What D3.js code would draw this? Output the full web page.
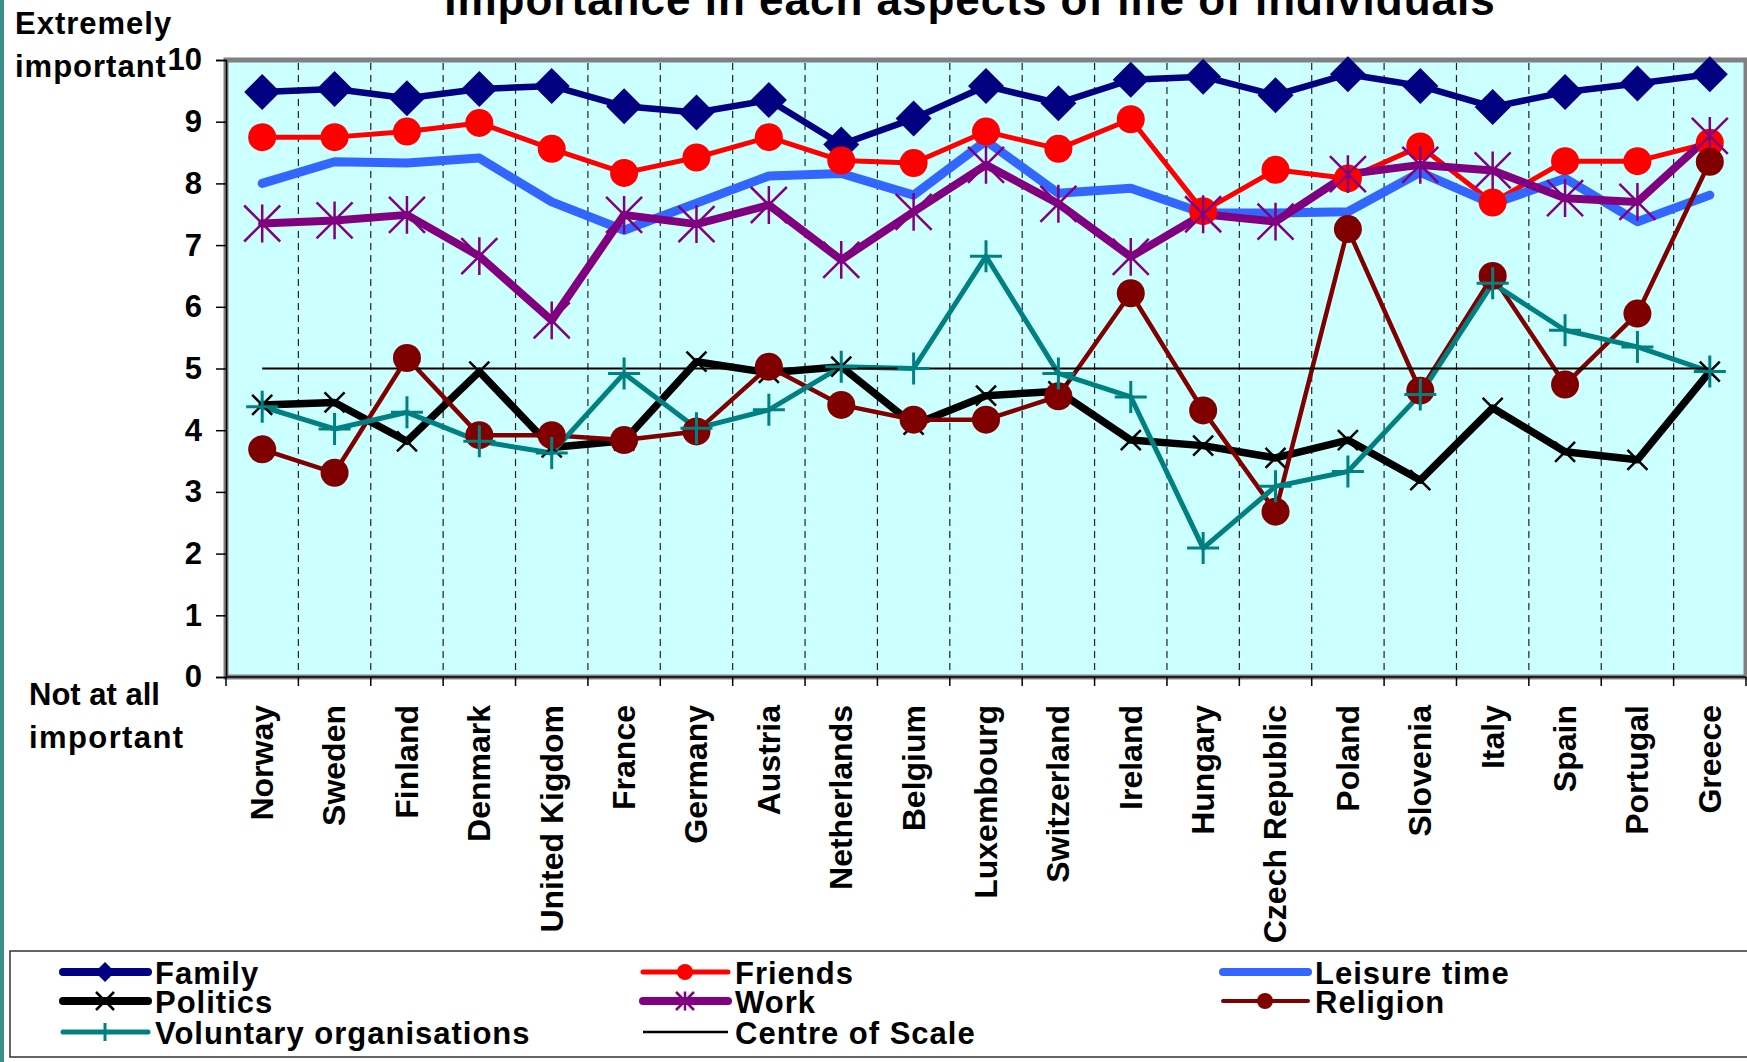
<!DOCTYPE html>
<html>
<head>
<meta charset="utf-8">
<script src="https://cdn.jsdelivr.net/npm/d3@7"></script>
<style>
  html, body { margin: 0; padding: 0; background: #fff; }
  svg { display: block; }
  text { font-family: "Liberation Sans", Arial, sans-serif; font-weight: bold; fill: #000; }
</style>
</head>
<body>
<svg id="chart" width="1747" height="1062"></svg>
<script>
// Countries along the horizontal axis
const countries = ["Norway", "Sweden", "Finland", "Denmark", "United Kigdom", "France", "Germany",
  "Austria", "Netherlands", "Belgium", "Luxembourg", "Switzerland", "Ireland", "Hungary",
  "Czech Republic", "Poland", "Slovenia", "Italy", "Spain", "Portugal", "Greece"];

// Mean importance (0 = not at all important, 10 = extremely important)
const family    = [9.48, 9.53, 9.38, 9.53, 9.58, 9.25, 9.15, 9.35, 8.63, 9.05, 9.58, 9.30, 9.68, 9.73, 9.43, 9.77, 9.58, 9.24, 9.48, 9.62, 9.77];
const friends   = [8.75, 8.75, 8.84, 8.98, 8.56, 8.17, 8.42, 8.75, 8.37, 8.33, 8.84, 8.56, 9.04, 7.55, 8.22, 8.08, 8.60, 7.69, 8.36, 8.36, 8.66];
const leisure   = [8.00, 8.35, 8.33, 8.41, 7.70, 7.24, 7.68, 8.12, 8.16, 7.81, 8.69, 7.84, 7.92, 7.52, 7.52, 7.54, 8.18, 7.67, 8.08, 7.38, 7.81];
const politics  = [4.41, 4.45, 3.82, 4.95, 3.72, 3.83, 5.11, 4.93, 5.03, 4.09, 4.56, 4.63, 3.84, 3.75, 3.55, 3.84, 3.19, 4.36, 3.65, 3.52, 4.95];
const work      = [7.35, 7.40, 7.49, 6.82, 5.78, 7.49, 7.34, 7.65, 6.76, 7.54, 8.30, 7.67, 6.81, 7.50, 7.38, 8.15, 8.30, 8.21, 7.76, 7.70, 8.77];
const religion  = [3.69, 3.31, 5.17, 3.92, 3.92, 3.84, 3.98, 5.03, 4.41, 4.17, 4.17, 4.55, 6.22, 4.32, 2.68, 7.26, 4.64, 6.50, 4.74, 5.89, 8.35];
const voluntary = [4.38, 4.02, 4.29, 3.82, 3.63, 4.92, 4.03, 4.33, 5.03, 5.00, 6.82, 4.92, 4.54, 2.09, 3.09, 3.33, 4.58, 6.38, 5.62, 5.35, 4.95];
const centreOfScale = 5;

const yTicks = [0, 1, 2, 3, 4, 5, 6, 7, 8, 9, 10];
const titleText = "Importance in each aspects of life of individuals";

// Series table, in legend order
const series = [
  { name: "Family",                  values: family,    color: "#000080", width: 6.5, marker: "diamond",  size: 18, lw: 8 },
  { name: "Friends",                 values: friends,   color: "#FF0000", width: 5,   marker: "circle",   size: 14, lw: 5 },
  { name: "Leisure time",            values: leisure,   color: "#3366FF", width: 9,   marker: null,       size: 0,  lw: 8 },
  { name: "Politics",                values: politics,  color: "#000000", width: 7.5, marker: "x",        size: 10, lw: 8 },
  { name: "Work",                    values: work,      color: "#800080", width: 8,   marker: "asterisk", size: 18, lw: 8 },
  { name: "Religion",                values: religion,  color: "#800000", width: 4.5, marker: "circle",   size: 14, lw: 4 },
  { name: "Voluntary organisations", values: voluntary, color: "#008080", width: 5,   marker: "plus",     size: 16, lw: 5 }
];

const svg = d3.select("#chart");
const plot = { left: 226, right: 1746, top: 60, bottom: 677 };

const x = d3.scaleBand().domain(countries).range([plot.left, plot.right]).paddingInner(0).paddingOuter(0);
const cx = c => x(c) + x.bandwidth() / 2;
const y = d3.scaleLinear().domain([0, 10]).range([plot.bottom, plot.top]);

// thin strip on the left edge
svg.append("rect").attr("x", 0).attr("y", 0).attr("width", 4).attr("height", 1062).attr("fill", "#3f8c8c");

// title (partly above the page)
svg.append("text").attr("x", 970).attr("y", 15).attr("text-anchor", "middle")
  .style("font-size", "44px").style("letter-spacing", "1px").text(titleText);

// plot area
svg.append("rect")
  .attr("x", plot.left).attr("y", plot.top)
  .attr("width", plot.right - plot.left).attr("height", plot.bottom - plot.top)
  .attr("fill", "#CCFFFF").attr("stroke", "#808080").attr("stroke-width", 5);

// dashed separators between countries
svg.append("g").selectAll("line").data(countries.slice(1)).join("line")
  .attr("x1", d => x(d)).attr("x2", d => x(d))
  .attr("y1", plot.top + 3).attr("y2", plot.bottom - 3)
  .attr("stroke", "#222").attr("stroke-width", 1.2).attr("stroke-dasharray", "7,5");

// y axis
const yAxis = svg.append("g").attr("transform", `translate(${plot.left},0)`)
  .call(d3.axisLeft(y).tickValues(yTicks).tickFormat(d3.format("d")).tickSize(10).tickPadding(14));
yAxis.select(".domain").attr("stroke", "#000").attr("stroke-width", 1.5);
yAxis.selectAll(".tick line").attr("stroke", "#000").attr("stroke-width", 1.5);
yAxis.selectAll(".tick text").style("font-size", "31px").attr("font-family", null).attr("fill", "#000");

// x axis with ticks at country boundaries
const xAxisG = svg.append("g").attr("transform", `translate(0,${plot.bottom})`);
xAxisG.append("line").attr("x1", plot.left).attr("x2", plot.right).attr("stroke", "#000").attr("stroke-width", 1.5);
xAxisG.selectAll("line.tk").data(countries.concat(["__end"])).join("line").attr("class", "tk")
  .attr("x1", (d, i) => i < countries.length ? x(d) : plot.right)
  .attr("x2", (d, i) => i < countries.length ? x(d) : plot.right)
  .attr("y1", 0).attr("y2", 9).attr("stroke", "#000").attr("stroke-width", 1.5);
xAxisG.selectAll("text").data(countries).join("text")
  .attr("transform", d => `translate(${cx(d)},28) rotate(-90)`)
  .attr("text-anchor", "end").attr("dy", "0.34em")
  .style("font-size", "32px").text(d => d);

// axis end captions
svg.append("text").attr("x", 15).attr("y", 34).style("font-size", "31px").style("letter-spacing", "1px").text("Extremely");
svg.append("text").attr("x", 15).attr("y", 77).style("font-size", "31px").style("letter-spacing", "1px").text("important");
svg.append("text").attr("x", 29).attr("y", 705).style("font-size", "31px").text("Not at all");
svg.append("text").attr("x", 29).attr("y", 748).style("font-size", "31px").style("letter-spacing", "1.4px").text("important");

// marker drawing helper
function drawMarker(g, type, size, color) {
  if (type === "diamond") {
    g.append("path").attr("d", `M0,${-size}L${size},0L0,${size}L${-size},0Z`).attr("fill", color);
  } else if (type === "circle") {
    g.append("circle").attr("r", size).attr("fill", color);
  } else if (type === "x") {
    g.append("path").attr("d", `M${-size},${-size}L${size},${size}M${-size},${size}L${size},${-size}`)
      .attr("stroke", color).attr("stroke-width", 2.5).attr("fill", "none");
  } else if (type === "asterisk") {
    g.append("path").attr("d", `M${-size},${-size}L${size},${size}M${-size},${size}L${size},${-size}M0,${-size * 1.05}L0,${size * 1.05}`)
      .attr("stroke", color).attr("stroke-width", 2.5).attr("fill", "none");
  } else if (type === "plus") {
    g.append("path").attr("d", `M${-size},0L${size},0M0,${-size}L0,${size}`)
      .attr("stroke", color).attr("stroke-width", 3).attr("fill", "none");
  }
}

const line = d3.line().x((d, i) => cx(countries[i])).y(d => y(d));

// all series lines first
const linesG = svg.append("g");
series.forEach(s => {
  linesG.append("path").datum(s.values).attr("d", line)
    .attr("fill", "none").attr("stroke", s.color).attr("stroke-width", s.width)
    .attr("stroke-linejoin", "round").attr("stroke-linecap", "round");
});

// centre of scale
svg.append("line")
  .attr("x1", cx(countries[0])).attr("x2", cx(countries[countries.length - 1]))
  .attr("y1", y(centreOfScale)).attr("y2", y(centreOfScale))
  .attr("stroke", "#000").attr("stroke-width", 2.2);

// markers on top
const markersG = svg.append("g");
series.filter(s => s.marker).forEach(s => {
  s.values.forEach((v, i) => {
    const g = markersG.append("g").attr("transform", `translate(${cx(countries[i])},${y(v)})`);
    drawMarker(g, s.marker, s.size, s.color);
  });
});

// legend
const legend = svg.append("g");
legend.append("rect").attr("x", 10).attr("y", 951).attr("width", 1760).attr("height", 106)
  .attr("fill", "#fff").attr("stroke", "#333").attr("stroke-width", 1.5);

const legendItems = series.map(s => ({ name: s.name, color: s.color, lw: s.lw, marker: s.marker, size: s.size }))
  .concat([{ name: "Centre of Scale", color: "#000", lw: 2.5, marker: null, size: 0 }]);
const colX = [63, 643, 1223];
const rowY = [972, 1001, 1032];
legendItems.forEach((d, i) => {
  const col = i % 3, row = Math.floor(i / 3);
  const g = legend.append("g").attr("transform", `translate(${colX[col]},${rowY[row]})`);
  g.append("line").attr("x1", 0).attr("x2", 85).attr("stroke", d.color).attr("stroke-width", d.lw)
    .attr("stroke-linecap", d.lw > 3 ? "round" : "butt");
  if (d.marker) {
    const m = g.append("g").attr("transform", "translate(42,0)");
    const sz = d.marker === "diamond" ? 10 : d.marker === "circle" ? 8 : 9;
    drawMarker(m, d.marker, sz, d.color);
  }
  g.append("text").attr("x", 92).attr("y", 12).style("font-size", "31px").style("letter-spacing", "1px").text(d.name);
});
</script>
</body>
</html>
